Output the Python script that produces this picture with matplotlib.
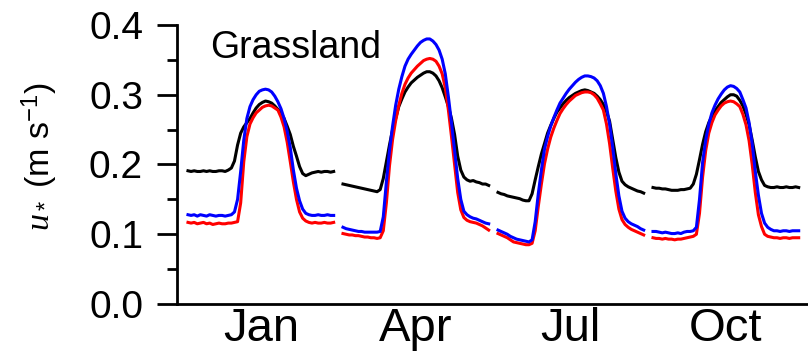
import numpy as np
import matplotlib
matplotlib.use('Agg')
import matplotlib.pyplot as plt
from matplotlib.ticker import MultipleLocator, FormatStrFormatter

plt.rcParams['font.family'] = ['Liberation Sans', 'DejaVu Sans']
plt.rcParams['mathtext.fontset'] = 'custom'
plt.rcParams['mathtext.it'] = 'Liberation Serif:italic'
plt.rcParams['mathtext.rm'] = 'Liberation Sans'
plt.rcParams['mathtext.sf'] = 'Liberation Sans'
plt.rcParams['mathtext.bf'] = 'Liberation Sans:bold'

months = ['Jan', 'Apr', 'Jul', 'Oct']
hours = np.arange(48) * 0.5  # half-hourly diurnal cycle

black_jan = [0.191, 0.190, 0.191, 0.190, 0.190, 0.191, 0.190, 0.191, 0.190, 0.190, 0.191, 0.191, 0.190, 0.192,
             0.195, 0.205, 0.228, 0.245, 0.254, 0.260, 0.266, 0.274, 0.281, 0.286, 0.289, 0.291, 0.290, 0.288,
             0.284, 0.279, 0.274, 0.266, 0.255, 0.243, 0.226, 0.212, 0.197, 0.187, 0.184, 0.186, 0.188,
             0.189, 0.190, 0.189, 0.190, 0.190, 0.189, 0.190]
blue_jan = [0.128, 0.127, 0.128, 0.126, 0.128, 0.127, 0.126, 0.128, 0.127, 0.126, 0.127, 0.127, 0.126, 0.127, 0.128,
            0.132, 0.150, 0.190, 0.235, 0.266, 0.283, 0.293, 0.300, 0.305, 0.307, 0.308, 0.307, 0.304, 0.298,
            0.290, 0.280, 0.266, 0.248, 0.224, 0.192, 0.166, 0.148, 0.136, 0.130,
            0.128, 0.127, 0.127, 0.128, 0.127, 0.127, 0.128, 0.127, 0.127]
red_jan = [0.117, 0.116, 0.117, 0.115, 0.116, 0.117, 0.115, 0.116, 0.114, 0.115, 0.116, 0.115, 0.115, 0.116, 0.116, 0.117,
           0.118, 0.145, 0.204, 0.240, 0.258, 0.267, 0.274, 0.278, 0.282, 0.284, 0.285, 0.284, 0.281, 0.278,
           0.268, 0.254, 0.232, 0.204, 0.175, 0.150, 0.132, 0.123, 0.119,
           0.117, 0.116, 0.117, 0.116, 0.116, 0.117, 0.116, 0.116, 0.117]

black_apr = [0.172, 0.171, 0.170, 0.169, 0.168, 0.167, 0.166, 0.165, 0.164, 0.163, 0.162, 0.161,
             0.164, 0.180, 0.204, 0.228, 0.250, 0.266, 0.283, 0.294, 0.304, 0.311, 0.317, 0.321,
             0.325, 0.328, 0.331, 0.333, 0.333, 0.331, 0.327, 0.320, 0.310, 0.297, 0.283, 0.266,
             0.243, 0.212, 0.192, 0.182, 0.178, 0.176, 0.177, 0.175, 0.174, 0.172, 0.172, 0.170]
blue_apr = [0.110, 0.108, 0.107, 0.106, 0.105, 0.104, 0.104, 0.103, 0.103, 0.103, 0.103, 0.103,
            0.104, 0.125, 0.175, 0.220, 0.255, 0.285, 0.308, 0.326, 0.341, 0.351, 0.358, 0.364,
            0.370, 0.375, 0.378, 0.380, 0.380, 0.377, 0.372, 0.364, 0.351, 0.330, 0.297, 0.260,
            0.220, 0.180, 0.150, 0.133, 0.128, 0.125, 0.123, 0.122, 0.120, 0.118, 0.116, 0.115]
red_apr = [0.101, 0.100, 0.099, 0.099, 0.098, 0.098, 0.097, 0.096, 0.096, 0.095, 0.095, 0.094,
           0.095, 0.105, 0.145, 0.198, 0.236, 0.263, 0.285, 0.302, 0.315, 0.324, 0.331, 0.336,
           0.341, 0.345, 0.349, 0.351, 0.352, 0.351, 0.348, 0.341, 0.330, 0.310, 0.278, 0.240,
           0.200, 0.160, 0.135, 0.124, 0.120, 0.118, 0.117, 0.116, 0.114, 0.112, 0.109, 0.106]

black_jul = [0.160, 0.158, 0.157, 0.155, 0.154, 0.153, 0.152, 0.151, 0.149, 0.148, 0.148, 0.158,
             0.178, 0.197, 0.215, 0.230, 0.245, 0.256, 0.266, 0.275, 0.281, 0.287, 0.292, 0.296,
             0.299, 0.302, 0.304, 0.306, 0.307, 0.306, 0.304, 0.302, 0.298, 0.293, 0.286, 0.276,
             0.262, 0.236, 0.210, 0.189, 0.176, 0.171, 0.168, 0.166, 0.164, 0.162, 0.161, 0.159]
blue_jul = [0.106, 0.104, 0.102, 0.100, 0.097, 0.095, 0.093, 0.092, 0.091, 0.090, 0.089, 0.092,
            0.118, 0.158, 0.192, 0.222, 0.240, 0.255, 0.267, 0.278, 0.288, 0.295, 0.302, 0.308,
            0.313, 0.318, 0.322, 0.325, 0.327, 0.327, 0.326, 0.324, 0.320, 0.313, 0.302, 0.283,
            0.258, 0.225, 0.187, 0.155, 0.133, 0.123, 0.118, 0.115, 0.113, 0.111, 0.108, 0.106]
red_jul = [0.101, 0.099, 0.097, 0.095, 0.092, 0.089, 0.088, 0.087, 0.086, 0.085, 0.085, 0.087,
           0.105, 0.140, 0.172, 0.201, 0.222, 0.239, 0.252, 0.263, 0.273, 0.280, 0.286, 0.291,
           0.295, 0.299, 0.301, 0.303, 0.304, 0.304, 0.303, 0.300, 0.295, 0.287, 0.278, 0.258,
           0.230, 0.195, 0.162, 0.136, 0.121, 0.114, 0.110, 0.107, 0.105, 0.103, 0.101, 0.099]

black_oct = [0.167, 0.166, 0.166, 0.165, 0.165, 0.164, 0.163, 0.163, 0.163, 0.164, 0.164, 0.165,
             0.166, 0.172, 0.186, 0.207, 0.229, 0.247, 0.260, 0.269, 0.277, 0.283, 0.289, 0.293,
             0.297, 0.300, 0.300, 0.298, 0.292, 0.284, 0.272, 0.257, 0.235, 0.211, 0.190, 0.178,
             0.170, 0.168, 0.167, 0.167, 0.168, 0.167, 0.167, 0.168, 0.167, 0.167, 0.168, 0.167]
blue_oct = [0.104, 0.104, 0.103, 0.102, 0.103, 0.102, 0.101, 0.101, 0.102, 0.101, 0.103, 0.104,
            0.104, 0.105, 0.110, 0.150, 0.203, 0.235, 0.258, 0.274, 0.285, 0.294, 0.301, 0.307,
            0.311, 0.313, 0.312, 0.309, 0.304, 0.293, 0.281, 0.260, 0.230, 0.190, 0.156, 0.130,
            0.116, 0.110, 0.107, 0.105, 0.105, 0.104, 0.105, 0.105, 0.104, 0.105, 0.105, 0.105]
red_oct = [0.095, 0.094, 0.094, 0.093, 0.094, 0.093, 0.093, 0.092, 0.093, 0.093, 0.094, 0.095,
           0.096, 0.097, 0.100, 0.130, 0.182, 0.220, 0.245, 0.260, 0.271, 0.278, 0.284, 0.288,
           0.290, 0.291, 0.290, 0.287, 0.283, 0.272, 0.257, 0.234, 0.200, 0.160, 0.128, 0.111,
           0.100, 0.097, 0.096, 0.095, 0.095, 0.094, 0.095, 0.095, 0.094, 0.095, 0.095, 0.095]

black_series = [black_jan, black_apr, black_jul, black_oct]
red_series = [red_jan, red_apr, red_jul, red_oct]
blue_series = [blue_jan, blue_apr, blue_jul, blue_oct]

period = 25.0  # hours per month block incl. gap

fig = plt.figure(figsize=(8.08, 3.6), dpi=100)
ax = fig.add_axes([177 / 808, 1 - 304 / 360, 631 / 808, 279 / 360])

for i in range(len(months)):
    x = hours + i * period
    ax.plot(x, black_series[i], color='black', lw=2.2)
    ax.plot(x, red_series[i], color='#ff0000', lw=2.2)
    ax.plot(x, blue_series[i], color='#0000ff', lw=2.2)

ax.set_xlim(-1.77, 100)
ax.set_ylim(0, 0.4)
ax.set_xticks([i * period + hours[-1] / 2 for i in range(len(months))])
ax.set_xticklabels(months, fontsize=34)
ax.tick_params(axis='x', length=0, pad=2)

ax.yaxis.set_major_locator(MultipleLocator(0.1))
ax.yaxis.set_minor_locator(MultipleLocator(0.05))
ax.yaxis.set_major_formatter(FormatStrFormatter('%.1f'))
ax.tick_params(axis='y', which='major', length=14.4, width=2, labelsize=28, pad=10, direction='out')
ax.tick_params(axis='y', which='minor', length=7.2, width=2, direction='out')

for s in ['top', 'right']:
    ax.spines[s].set_visible(False)
for s in ['left', 'bottom']:
    ax.spines[s].set_linewidth(2)

ax.text(0.052, 0.883, 'Grassland', transform=ax.transAxes, fontsize=27,
        ha='left', va='baseline')

fig.text(40 / 808, 1 - 157 / 360, r'$u_*$ (m s$^{-1}$)', rotation=90,
         ha='center', va='center', fontsize=24.5)

fig.savefig('out.png', dpi=100)
